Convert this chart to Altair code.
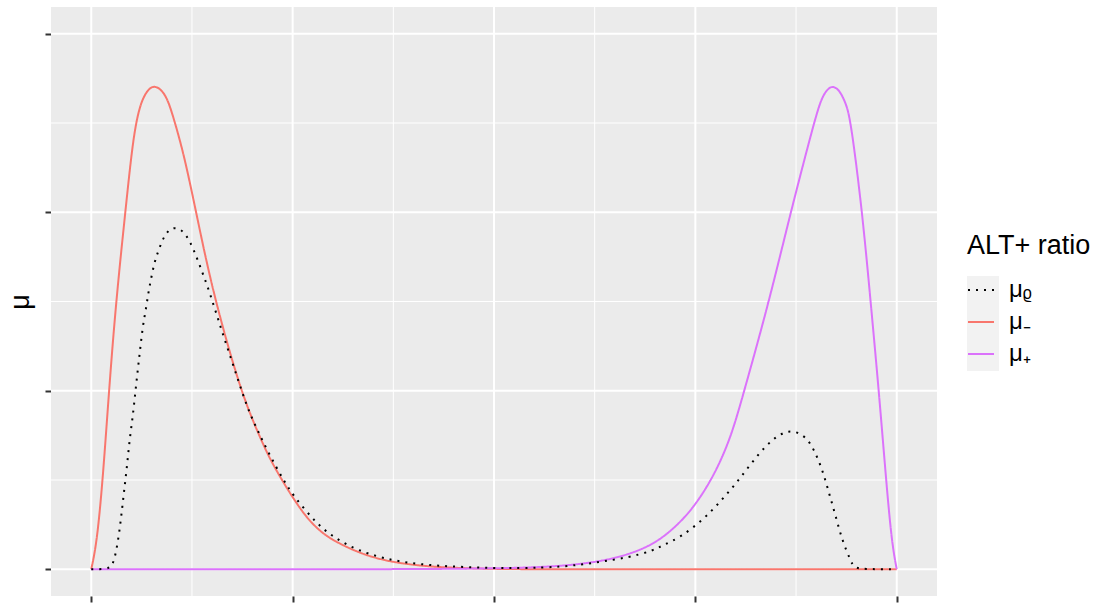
import altair as alt
import pandas as pd

# --- curve samples -------------------------------------------------------
mu_minus_x = [0.0, 0.007, 0.0146, 0.0220, 0.0307, 0.0427, 0.0520, 0.0597, 0.0659,
              0.0721, 0.0784, 0.0867, 0.0949, 0.1041, 0.1157, 0.1302, 0.1509, 0.1853,
              0.2068, 0.2214, 0.2380, 0.2504, 0.2670, 0.2836, 0.3001, 0.3417, 0.3830,
              0.4245, 0.4660, 0.5200, 0.6000, 0.8000, 1.0]
mu_minus_y = [0.0, 0.15, 0.52, 1.00, 1.50, 2.02, 2.42, 2.587, 2.655,
              2.695, 2.708, 2.689, 2.635, 2.50, 2.31, 2.00, 1.55, 1.00,
              0.766, 0.62, 0.49, 0.40, 0.29, 0.215, 0.160, 0.072, 0.032,
              0.013, 0.005, 0.0, 0.0, 0.0, 0.0]

mu_plus_x = [0.0, 0.2000, 0.4000, 0.4826, 0.5655, 0.6277, 0.6692, 0.7023, 0.7313,
             0.7521, 0.7728, 0.7935, 0.8101, 0.8412, 0.8682, 0.8930, 0.9055, 0.9138,
             0.9200, 0.9283, 0.9366, 0.9428, 0.9573, 0.9677, 0.9780, 0.9884, 0.9946, 1.0]
mu_plus_y = [0.0, 0.0, 0.0, 0.004, 0.010, 0.038, 0.084, 0.149, 0.261,
             0.373, 0.523, 0.728, 0.990, 1.494, 1.998, 2.427, 2.633, 2.689,
             2.708, 2.689, 2.614, 2.521, 1.998, 1.494, 0.990, 0.411, 0.13, 0.0]

mu_rho_x = [0.0, 0.0195, 0.0265, 0.0307, 0.0348, 0.0382, 0.0410, 0.0444, 0.0476,
            0.0514, 0.0544, 0.0576, 0.0609, 0.0643, 0.0680, 0.0709, 0.0743, 0.0784,
            0.0825, 0.0887, 0.0937, 0.0999, 0.1095, 0.1157, 0.1219, 0.1294, 0.1364,
            0.1434, 0.1530, 0.1613, 0.1704, 0.1820, 0.1944, 0.2068, 0.2214, 0.2379,
            0.2504, 0.2795, 0.3022, 0.3292, 0.3644, 0.4039, 0.4660, 0.5323, 0.5862,
            0.6277, 0.6670, 0.6961, 0.7100, 0.7313, 0.7604, 0.7811, 0.7998, 0.8184,
            0.8371, 0.8516, 0.8682, 0.8868, 0.8971, 0.9076, 0.9158, 0.9241, 0.9325,
            0.9428, 0.9469, 0.9573, 1.0]
mu_rho_y = [0.0, 0.0, 0.019, 0.094, 0.205, 0.336, 0.448, 0.579, 0.728,
            0.850, 0.980, 1.111, 1.242, 1.373, 1.460, 1.550, 1.630, 1.718,
            1.774, 1.849, 1.886, 1.914, 1.910, 1.882, 1.843, 1.765, 1.681,
            1.597, 1.466, 1.345, 1.223, 1.064, 0.896, 0.775, 0.640, 0.505,
            0.415, 0.255, 0.175, 0.108, 0.058, 0.027, 0.010, 0.004, 0.013,
            0.038, 0.066, 0.102, 0.135, 0.178, 0.280, 0.380, 0.476, 0.588,
            0.691, 0.747, 0.784, 0.747, 0.672, 0.560, 0.429, 0.299, 0.159,
            0.047, 0.010, 0.0, 0.0]

series_names = ["μᵨ", "μ₋", "μ₊"]
series_colors = ["#000000", "#F8766D", "#DB72FB"]
series_dash = [[2, 6], [1, 0], [1, 0]]

# --- panel breaks ---------------------------------------------------------
x_major = [0.0, 0.25, 0.5, 0.75, 1.0]
x_minor = [0.125, 0.375, 0.625, 0.875]
y_major = [0, 1, 2, 3]
y_minor = [0.5, 1.5, 2.5]

x_domain = [-0.05, 1.05]
y_domain = [-0.15, 3.15]

# --- tables ---------------------------------------------------------------
def frame(xs, ys, name):
    return pd.DataFrame({"x": xs, "y": ys, "series": name})

df_rho = frame(mu_rho_x, mu_rho_y, series_names[0])
df_minus = frame(mu_minus_x, mu_minus_y, series_names[1])
df_plus = frame(mu_plus_x, mu_plus_y, series_names[2])

FONT = "Liberation Sans"

x_axis = alt.Axis(values=x_major, labels=False, ticks=True, tickSize=6, tickWidth=2,
                  tickColor="#333333", domain=False, grid=False)
y_axis = alt.Axis(values=y_major, labels=False, ticks=True, tickSize=6, tickWidth=2,
                  tickColor="#333333", domain=False, grid=False,
                  titleFont=FONT, titleFontSize=27, titleFontWeight="normal",
                  titleColor="#000000", titlePadding=10)

x_enc = alt.X("x:Q", scale=alt.Scale(domain=x_domain, nice=False, zero=False),
              axis=x_axis, title=None)
y_enc = alt.Y("y:Q", scale=alt.Scale(domain=y_domain, nice=False, zero=False),
              axis=y_axis, title="μ")

legend = alt.Legend(
    orient="none", legendX=916, legendY=226, padding=0,
    title="ALT+ ratio", titleFont=FONT, titleFontSize=27, titleFontWeight="normal",
    titleColor="#000000", titlePadding=16,
    labelFont=FONT, labelFontSize=24, labelColor="#000000", labelOffset=14,
    symbolType="stroke", symbolSize=676, symbolStrokeWidth=2, rowPadding=6,
)
color_enc = alt.Color("series:N", scale=alt.Scale(domain=series_names, range=series_colors),
                      legend=legend)
dash_enc = alt.StrokeDash("series:N", scale=alt.Scale(domain=series_names, range=series_dash),
                          legend=legend)

# panel background
panel = alt.Chart(pd.DataFrame({"k": [0]})).mark_rect(color="#EBEBEB").encode(
    x=alt.value(0), x2=alt.value("width"), y=alt.value(0), y2=alt.value("height")
)

# legend key background
key_bg = alt.Chart(pd.DataFrame({"k": [0]})).mark_rect(color="#F2F2F2").encode(
    x=alt.value(916), x2=alt.value(948), y=alt.value(269), y2=alt.value(364)
)

# panel grid
grid_x_minor = alt.Chart(pd.DataFrame({"x": x_minor})).mark_rule(
    color="white", strokeWidth=1).encode(x=x_enc)
grid_x_major = alt.Chart(pd.DataFrame({"x": x_major})).mark_rule(
    color="white", strokeWidth=2).encode(x=x_enc)
grid_y_minor = alt.Chart(pd.DataFrame({"y": y_minor})).mark_rule(
    color="white", strokeWidth=1).encode(y=y_enc)
grid_y_major = alt.Chart(pd.DataFrame({"y": y_major})).mark_rule(
    color="white", strokeWidth=2).encode(y=y_enc)


def curve(df):
    return alt.Chart(df).mark_line(strokeWidth=2, interpolate="basis").encode(
        x=x_enc, y=y_enc, color=color_enc, strokeDash=dash_enc
    )


chart = alt.layer(
    panel, key_bg, grid_x_minor, grid_y_minor, grid_x_major, grid_y_major,
    curve(df_minus), curve(df_plus), curve(df_rho),
).properties(
    width=886, height=589,
    padding={"left": 51, "top": 7, "right": 161, "bottom": 7},
    autosize=alt.AutoSizeParams(type="none"),
).configure(
    background="#FFFFFF"
).configure_view(
    stroke="transparent"
)

chart.save("out.html", embed_options={"renderer": "svg", "actions": False})
